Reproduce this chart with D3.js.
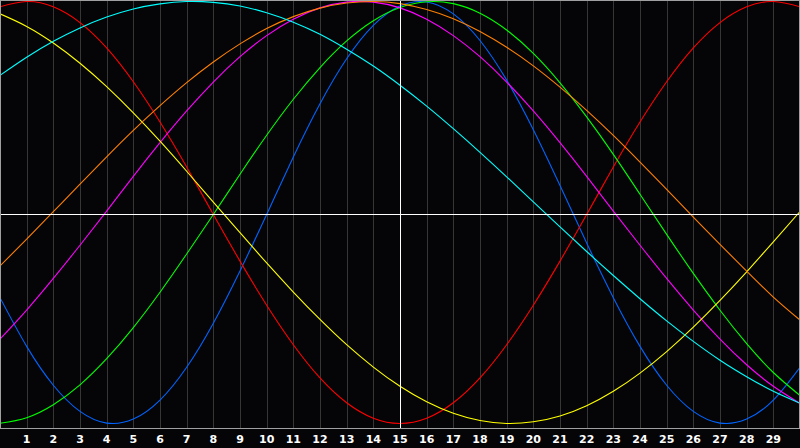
<!DOCTYPE html>
<html>
<head>
<meta charset="utf-8">
<script src="https://cdn.jsdelivr.net/npm/d3@7"></script>
<style>
    body { margin: 0; background: #050508; }
    svg { display: block; }
</style>
</head>
<body>
<script>
let width = 800;
let height = 448;

// days shown on the chart, 0 = left edge, 30 = right edge
let days = [0, 1, 2, 3, 4, 5, 6, 7, 8, 9, 10, 11, 12, 13, 14, 15,
            16, 17, 18, 19, 20, 21, 22, 23, 24, 25, 26, 27, 28, 29, 30];
let dayTicks = [1, 2, 3, 4, 5, 6, 7, 8, 9, 10, 11, 12, 13, 14, 15,
                16, 17, 18, 19, 20, 21, 22, 23, 24, 25, 26, 27, 28, 29];
let today = 15;

// values per day, -1 .. 1
let blueVals = [-0.398, -0.631, -0.817, -0.942, -0.998, -0.979, -0.888, -0.731, -0.520, -0.270, 0,
                0.270, 0.520, 0.731, 0.888, 0.979, 0.998, 0.942, 0.817, 0.631, 0.398,
                0.136, -0.136, -0.398, -0.631, -0.817, -0.942, -0.998, -0.979, -0.888, -0.731];
let redVals = [0.975, 1.000, 0.975, 0.901, 0.782, 0.623, 0.434, 0.223, 0, -0.223, -0.434,
               -0.623, -0.782, -0.901, -0.975, -1.000, -0.975, -0.901, -0.782, -0.623, -0.434,
               -0.223, 0, 0.223, 0.434, 0.623, 0.782, 0.901, 0.975, 1.000, 0.975];
let greenVals = [-0.999, -0.972, -0.910, -0.815, -0.690, -0.541, -0.372, -0.189, 0, 0.189, 0.372,
                 0.541, 0.690, 0.815, 0.910, 0.972, 0.999, 0.990, 0.945, 0.866, 0.756,
                 0.618, 0.458, 0.282, 0.095, -0.095, -0.282, -0.458, -0.618, -0.756, -0.866];
let magentaVals = [-0.596, -0.457, -0.306, -0.147, 0.016, 0.179, 0.337, 0.486, 0.622, 0.741, 0.840,
                   0.917, 0.970, 0.997, 0.997, 0.970, 0.917, 0.840, 0.741, 0.622, 0.486,
                   0.337, 0.179, 0.016, -0.147, -0.306, -0.457, -0.596, -0.719, -0.822, -0.904];
let yellowVals = [0.942, 0.883, 0.805, 0.710, 0.600, 0.477, 0.344, 0.203, 0.058, -0.087, -0.232,
                  -0.371, -0.502, -0.623, -0.730, -0.822, -0.896, -0.951, -0.986, -1.000, -0.992,
                  -0.964, -0.915, -0.846, -0.759, -0.656, -0.539, -0.411, -0.274, -0.131, 0.014];
let orangeVals = [-0.246, -0.118, 0.013, 0.143, 0.271, 0.395, 0.511, 0.619, 0.716, 0.801, 0.873,
                  0.929, 0.969, 0.993, 1.000, 0.990, 0.962, 0.919, 0.859, 0.785, 0.698,
                  0.598, 0.489, 0.371, 0.246, 0.118, -0.013, -0.143, -0.271, -0.395, -0.505];
let cyanVals = [0.653, 0.738, 0.813, 0.876, 0.927, 0.965, 0.989, 1.000, 0.996, 0.979, 0.947,
                0.903, 0.846, 0.776, 0.697, 0.607, 0.509, 0.403, 0.292, 0.177, 0.059,
                -0.059, -0.177, -0.292, -0.403, -0.509, -0.607, -0.697, -0.776, -0.846, -0.903];

let series = [
    {color: "#0064ff", values: blueVals},
    {color: "#ff0000", values: redVals},
    {color: "#00ff00", values: greenVals},
    {color: "#ff00ff", values: magentaVals},
    {color: "#ffff00", values: yellowVals},
    {color: "#ff8000", values: orangeVals},
    {color: "#00ffff", values: cyanVals}
];

let plotBottom = 428;

let svg = d3.select("body")
            .append("svg")
            .attr("width", width)
            .attr("height", height)
            .style("background", "#050508");

let x = d3.scaleLinear()
    .domain([0, 30])
    .range([0, width]);

let y = d3.scaleLinear()
    .domain([-1, 0, 1])
    .range([423.5, 214.5, 1.5]);

// day grid
svg.append("g")
    .selectAll("line")
    .data(dayTicks)
    .join("line")
    .attr("x1", d => Math.round(x(d)) + 0.5)
    .attr("x2", d => Math.round(x(d)) + 0.5)
    .attr("y1", 0)
    .attr("y2", plotBottom)
    .style("stroke", "#363636")
    .style("stroke-width", 1);

// curves
let line = d3.line()
    .x((d, i) => x(days[i]))
    .y(d => y(d))
    .curve(d3.curveNatural);

svg.append("g")
    .selectAll("path")
    .data(series)
    .join("path")
    .attr("d", d => line(d.values))
    .style("fill", "none")
    .style("stroke", d => d.color)
    .style("stroke-width", 1.1);

// zero line and today marker
svg.append("line")
    .attr("x1", 0)
    .attr("x2", width)
    .attr("y1", Math.floor(y(0)) + 0.5)
    .attr("y2", Math.floor(y(0)) + 0.5)
    .style("stroke", "#ffffff")
    .style("stroke-width", 1);

svg.append("line")
    .attr("x1", Math.round(x(today)) + 0.5)
    .attr("x2", Math.round(x(today)) + 0.5)
    .attr("y1", 0)
    .attr("y2", plotBottom)
    .style("stroke", "#ffffff")
    .style("stroke-width", 1);

// frame
svg.append("rect")
    .attr("x", 0.5)
    .attr("y", 0.5)
    .attr("width", width - 1)
    .attr("height", plotBottom)
    .style("fill", "none")
    .style("stroke", "#a0a0a0")
    .style("stroke-width", 1);

// day labels
svg.append("g")
    .selectAll("text")
    .data(dayTicks)
    .join("text")
    .attr("x", d => x(d))
    .attr("y", 443)
    .attr("text-anchor", "middle")
    .style("fill", "#ffffff")
    .style("font-family", "'DejaVu Sans', sans-serif")
    .style("font-weight", "bold")
    .style("font-size", "11px")
    .text(d => d);
</script>
</body>
</html>
